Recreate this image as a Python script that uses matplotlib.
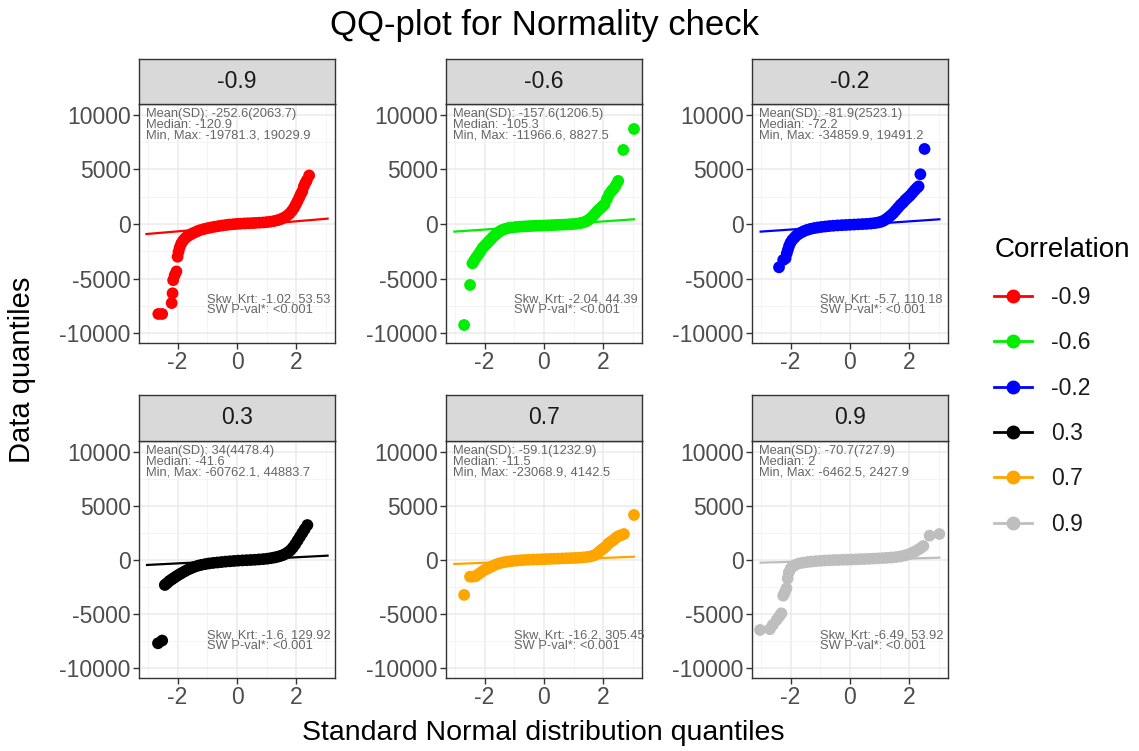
import matplotlib.pyplot as plt
from matplotlib.lines import Line2D
from matplotlib.ticker import FixedLocator

plt.rcParams['font.family'] = ['Liberation Sans', 'DejaVu Sans']
plt.rcParams['axes.unicode_minus'] = False

"""QQ-plot for normality check, one panel per correlation"""

panels = ['-0.9', '-0.6', '-0.2', '0.3', '0.7', '0.9']
colors = ['#FF0000', '#00EE00', '#0000FF', '#000000', '#FFA500', '#BEBEBE']

# theoretical quantiles (x) and data quantiles (y)
x_m09 = [-2.65, -2.52, -2.2, -2.17, -2.15, -2.1, -2.04, -2.0, -1.97, -1.93, -1.88, -1.82, -1.76, -1.7,
         -1.62, -1.54, -1.45, -1.35, -1.25, -1.12, -1.0, -0.88, -0.75, -0.62, -0.5, -0.37, -0.25, -0.12,
         0.0, 0.12, 0.25, 0.37, 0.5, 0.62, 0.75, 0.88, 1.0, 1.12, 1.25, 1.37, 1.48, 1.58, 1.68, 1.77,
         1.85, 1.92, 1.98, 2.04, 2.1, 2.15, 2.2, 2.25, 2.3, 2.35, 2.43]
y_m09 = [-8250, -8250, -7250, -6350, -5150, -4700, -4350, -3000, -2550, -2150, -1800, -1550, -1350, -1200,
         -1050, -920, -800, -680, -570, -470, -390, -320, -250, -190, -140, -90, -50, -20,
         10, 30, 50, 65, 80, 100, 120, 140, 170, 210, 270, 350, 450, 580, 750, 950,
         1200, 1480, 1780, 2100, 2450, 2750, 3000, 3450, 3750, 4000, 4450]

x_m06 = [-2.69, -2.49, -2.41, -2.35, -2.28, -2.21, -2.14, -2.07, -2.0, -1.93, -1.86, -1.79, -1.72, -1.64,
         -1.56, -1.48, -1.4, -1.3, -1.2, -1.08, -0.96, -0.84, -0.72, -0.6, -0.48, -0.36, -0.24, -0.12,
         0.0, 0.12, 0.24, 0.36, 0.48, 0.6, 0.72, 0.84, 0.96, 1.08, 1.2, 1.3, 1.4, 1.48, 1.56, 1.64,
         1.72, 1.8, 1.88, 1.96, 2.04, 2.12, 2.2, 2.28, 2.35, 2.42, 2.5, 2.67, 3.03]
y_m06 = [-9260, -5590, -3600, -3350, -3050, -2800, -2500, -2200, -2000, -1800, -1600, -1400, -1200, -1000,
         -820, -660, -540, -440, -370, -320, -280, -250, -230, -210, -190, -175, -160, -150,
         -140, -125, -110, -95, -80, -65, -50, -30, -10, 20, 70, 130, 220, 330, 500, 700,
         950, 1200, 1400, 1600, 1800, 2300, 2750, 3050, 3250, 3550, 3950, 6790, 8710]

x_m02 = [-2.39, -2.25, -2.17, -2.13, -2.09, -2.05, -2.0, -1.94, -1.87, -1.8, -1.72, -1.63, -1.54, -1.44,
         -1.33, -1.21, -1.09, -0.96, -0.83, -0.7, -0.56, -0.42, -0.28, -0.14, 0.0, 0.14, 0.28, 0.42,
         0.56, 0.7, 0.82, 0.94, 1.04, 1.13, 1.22, 1.3, 1.38, 1.46, 1.54, 1.62, 1.7, 1.78, 1.86, 1.94,
         2.02, 2.1, 2.18, 2.25, 2.31, 2.37, 2.51]
y_m02 = [-3970, -3300, -3150, -2700, -2350, -2000, -1700, -1450, -1250, -1050, -900, -760, -640, -540,
         -450, -380, -320, -270, -230, -190, -160, -130, -110, -90, -70, -50, -30, -10,
         10, 40, 80, 130, 200, 300, 450, 620, 800, 1000, 1250, 1500, 1750, 1950, 2200, 2400,
         2600, 2850, 3100, 3300, 3450, 4560, 6880]

x_p03 = [-2.66, -2.52, -2.43, -2.36, -2.28, -2.2, -2.12, -2.04, -1.95, -1.86, -1.76, -1.66, -1.55, -1.44,
         -1.32, -1.2, -1.07, -0.94, -0.8, -0.66, -0.52, -0.38, -0.24, -0.1, 0.04, 0.18, 0.32, 0.46,
         0.6, 0.74, 0.88, 1.02, 1.14, 1.26, 1.37, 1.47, 1.56, 1.64, 1.72, 1.8, 1.88, 1.96, 2.04,
         2.12, 2.2, 2.28, 2.37]
y_p03 = [-7700, -7450, -2310, -2150, -1950, -1800, -1650, -1500, -1350, -1200, -1050, -900, -770, -640,
         -530, -450, -380, -320, -270, -230, -190, -150, -120, -90, -60, -40, -20, 0,
         20, 50, 80, 120, 170, 230, 300, 380, 470, 580, 720, 900, 1150, 1450, 1800,
         2150, 2500, 2850, 3230]

x_p07 = [-2.69, -2.49, -2.4, -2.3, -2.2, -2.1, -2.0, -1.9, -1.8, -1.7, -1.58, -1.46, -1.33, -1.2,
         -1.06, -0.92, -0.78, -0.64, -0.5, -0.36, -0.22, -0.08, 0.06, 0.2, 0.34, 0.48, 0.62, 0.76,
         0.9, 1.04, 1.18, 1.32, 1.45, 1.57, 1.68, 1.78, 1.86, 1.94, 2.02, 2.1, 2.18, 2.26, 2.34,
         2.42, 2.5, 2.6, 2.69, 3.03]
y_p07 = [-3230, -1540, -1540, -1500, -1300, -1100, -920, -800, -650, -520, -380, -280, -200, -140,
         -90, -50, -20, 0, 20, 40, 55, 70, 85, 100, 115, 130, 145, 160,
         175, 190, 210, 240, 280, 330, 420, 560, 750, 950, 1100, 1300, 1550, 1700, 1850,
         2050, 2200, 2300, 2400, 4160]

x_p09 = [-3.03, -2.7, -2.6, -2.47, -2.38, -2.31, -2.25, -2.2, -2.14, -2.1, -2.06, -2.0, -1.93, -1.84,
         -1.72, -1.58, -1.44, -1.3, -1.15, -1.0, -0.85, -0.7, -0.55, -0.4, -0.25, -0.1, 0.05, 0.2,
         0.35, 0.5, 0.65, 0.8, 0.95, 1.1, 1.25, 1.4, 1.55, 1.7, 1.85, 1.97, 2.08, 2.18, 2.28,
         2.38, 2.47, 2.68, 3.01]
y_p09 = [-6470, -6400, -6000, -5540, -5200, -4930, -3300, -3000, -2620, -1700, -1150, -800, -600, -450,
         -320, -250, -190, -150, -110, -80, -50, -30, -10, 0, 15, 30, 45, 60,
         75, 90, 110, 130, 150, 175, 200, 230, 270, 330, 420, 520, 640, 780, 930,
         1100, 1290, 2250, 2400]

xs = [x_m09, x_m06, x_m02, x_p03, x_p07, x_p09]
ys = [y_m09, y_m06, y_m02, y_p03, y_p07, y_p09]

# reference line ends (x0, y0, x1, y1)
qq_lines = [(-3.05, -920, 3.05, 490), (-3.02, -700, 3.03, 430), (-3.01, -700, 3.01, 430),
            (-3.03, -460, 3.05, 400), (-3.02, -370, 3.03, 300), (-3.01, -250, 3.01, 215)]

stats_top = ['Mean(SD): -252.6(2063.7)\nMedian: -120.9\nMin, Max: -19781.3, 19029.9',
             'Mean(SD): -157.6(1206.5)\nMedian: -105.3\nMin, Max: -11966.6, 8827.5',
             'Mean(SD): -81.9(2523.1)\nMedian: -72.2\nMin, Max: -34859.9, 19491.2',
             'Mean(SD): 34(4478.4)\nMedian: -41.6\nMin, Max: -60762.1, 44883.7',
             'Mean(SD): -59.1(1232.9)\nMedian: -11.5\nMin, Max: -23068.9, 4142.5',
             'Mean(SD): -70.7(727.9)\nMedian: 2\nMin, Max: -6462.5, 2427.9']
stats_bot = ['Skw, Krt: -1.02, 53.53\nSW P-val*: <0.001',
             'Skw, Krt: -2.04, 44.39\nSW P-val*: <0.001',
             'Skw, Krt: -5.7, 110.18\nSW P-val*: <0.001',
             'Skw, Krt: -1.6, 129.92\nSW P-val*: <0.001',
             'Skw, Krt: -16.2, 305.45\nSW P-val*: <0.001',
             'Skw, Krt: -6.49, 53.92\nSW P-val*: <0.001']

W, H = 1139, 751
fig = plt.figure(figsize=(W / 100, H / 100), dpi=100)

col_left = [139, 446, 752]
panel_w = 196
rows = [(59, 104, 343), (395, 441, 678)]  # strip top, panel top, panel bottom

for i, name in enumerate(panels):
    r, c = divmod(i, 3)
    st, pt, pb = rows[r]
    left = col_left[c] / W
    ax = fig.add_axes([left, 1 - pb / H, panel_w / W, (pb - pt) / H])
    sx = fig.add_axes([left, 1 - pt / H, panel_w / W, (pt - st) / H])

    ax.set_xlim(-3.3, 3.3)
    ax.set_ylim(-10910, 11000)
    ax.xaxis.set_major_locator(FixedLocator([-2, 0, 2]))
    ax.xaxis.set_minor_locator(FixedLocator([-3, -1, 1, 3]))
    ax.yaxis.set_major_locator(FixedLocator([-10000, -5000, 0, 5000, 10000]))
    ax.yaxis.set_minor_locator(FixedLocator([-7500, -2500, 2500, 7500]))
    ax.grid(True, which='major', color='#EBEBEB', linewidth=1.1)
    ax.grid(True, which='minor', color='#F2F2F2', linewidth=0.6)
    ax.set_axisbelow(True)
    ax.tick_params(which='major', labelsize=16.5, labelcolor='#4D4D4D', color='#333333',
                   length=4, width=1, pad=2)
    ax.tick_params(which='minor', length=0)
    for sp in ax.spines.values():
        sp.set_color('#333333')
        sp.set_linewidth(1)

    x0, y0, x1, y1 = qq_lines[i]
    ax.plot([x0, x1], [y0, y1], color=colors[i], linewidth=1.6, zorder=2)
    ax.scatter(xs[i], ys[i], s=72, color=colors[i], edgecolors='none', zorder=3)

    ax.text(-3.05, 10600, stats_top[i], fontsize=9.3, color='#666666', va='top', ha='left',
            linespacing=0.85, zorder=4)
    ax.text(-1.0, -6400, stats_bot[i], fontsize=9.3, color='#666666', va='top', ha='left',
            linespacing=0.85, zorder=4)

    sx.set_facecolor('#D9D9D9')
    sx.set_xticks([])
    sx.set_yticks([])
    for sp in sx.spines.values():
        sp.set_color('#333333')
        sp.set_linewidth(1)
    sx.text(0.5, 0.5, name, fontsize=16.5, color='#1A1A1A', ha='center', va='center',
            transform=sx.transAxes)

fig.text(545 / W, 1 - 25 / H, 'QQ-plot for Normality check', fontsize=25, ha='center', va='center')
fig.text(543 / W, 1 - 733 / H, 'Standard Normal distribution quantiles', fontsize=20.5,
         ha='center', va='center')
fig.text(22 / W, 1 - 370 / H, 'Data quantiles', fontsize=21, rotation=90, ha='center', va='center')

handles = [Line2D([0], [0], color=col, linewidth=2, marker='o', markersize=9) for col in colors]
leg = fig.legend(handles, panels, title='Correlation', loc='upper left',
                 bbox_to_anchor=(985 / W, 1 - 228 / H), frameon=False, fontsize=16.5,
                 title_fontsize=20, alignment='left', handlelength=1.65, handletextpad=0.85,
                 labelspacing=0.98, borderaxespad=0)
for t in leg.get_texts():
    t.set_color('#1A1A1A')

fig.savefig('out.png', dpi=100)
